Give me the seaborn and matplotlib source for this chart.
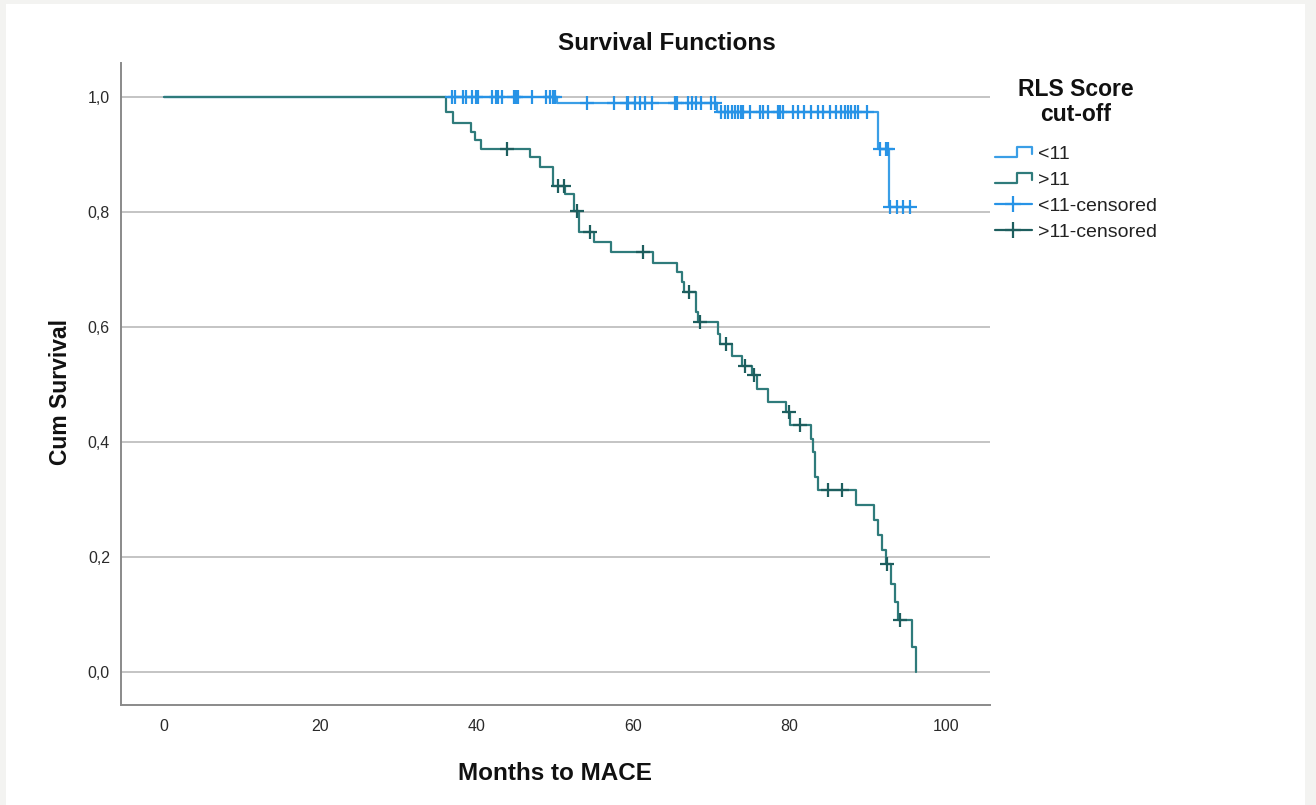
import numpy as np
import pandas as pd
import seaborn as sns
import matplotlib
matplotlib.use("Agg")
import matplotlib.pyplot as plt
from matplotlib.lines import Line2D
from matplotlib.patches import Rectangle
from matplotlib.legend_handler import HandlerBase

# RLS < 11 : step times (months) and cumulative survival after each step
low_event_times = [50.2, 70.7, 91.3, 92.7]
low_surv = [0.990, 0.973, 0.909, 0.808]
low_censor_times = [36.8, 37.2, 38.3, 38.6, 39.4, 39.9, 40.2, 41.9, 42.5, 42.7, 43.2,
                    44.8, 45.0, 45.3, 47.0, 48.9, 49.4, 49.7, 50.0,
                    54.1, 57.5, 59.2, 59.4, 60.2, 60.9, 61.5, 62.4, 65.3, 65.6, 67.0,
                    67.5, 68.1, 68.7, 70.0, 70.5,
                    71.3, 71.7, 72.1, 72.6, 73.0, 73.4, 73.8, 74.1, 74.9, 76.2, 76.6,
                    77.3, 78.5, 78.8, 79.2, 80.5, 81.1, 81.8, 82.8, 83.7, 84.3, 85.2,
                    86.0, 86.6, 87.1, 87.5, 87.9, 88.4, 88.8, 89.9,
                    91.6, 92.4, 92.6,
                    92.8, 93.7, 94.5, 95.4]

# RLS > 11
high_event_times = [36.1, 36.9, 39.3, 39.8, 40.6, 46.8, 48.1, 49.8, 51.3, 52.4, 53.1,
                    55.0, 57.2, 62.6, 65.6, 66.2, 66.5, 68.0, 68.3, 70.9, 71.1, 72.6,
                    73.9, 75.2, 75.8, 77.2, 79.5, 80.1, 82.8, 83.0, 83.2, 83.7, 88.5,
                    90.8, 91.3, 91.8, 92.4, 93.0, 93.5, 93.9, 95.7, 96.2]
high_surv = [0.973, 0.955, 0.938, 0.924, 0.909, 0.895, 0.878, 0.845, 0.831, 0.802, 0.765,
             0.747, 0.730, 0.712, 0.695, 0.678, 0.660, 0.626, 0.608, 0.588, 0.571, 0.550,
             0.533, 0.516, 0.493, 0.469, 0.452, 0.429, 0.406, 0.383, 0.339, 0.316, 0.290,
             0.264, 0.238, 0.212, 0.189, 0.154, 0.122, 0.091, 0.044, 0.0]
high_censor_times = [43.9, 50.4, 51.1, 52.8, 54.5, 61.3, 67.1, 68.6, 71.9, 74.3, 75.5,
                     79.9, 81.3, 84.9, 86.7, 92.5, 94.1]

x_ticks = [0, 20, 40, 60, 80, 100]
y_ticks = [0.0, 0.2, 0.4, 0.6, 0.8, 1.0]

blue = "#3a9ee6"
blue_mark = "#2793e6"
teal = "#2f7b7b"
teal_mark = "#1d5e5e"


def step_frame(event_times, surv, censor_times):
    end = max(max(event_times), max(censor_times))
    t = [0.0] + list(event_times)
    s = [1.0] + list(surv)
    if end > t[-1]:
        t.append(end)
        s.append(s[-1])
    curve = pd.DataFrame({"time": t, "surv": s})
    # survival level at each censoring time
    idx = np.searchsorted(np.array(event_times), np.array(censor_times), side="right")
    levels = np.concatenate([[1.0], surv])[idx]
    marks = pd.DataFrame({"time": censor_times, "surv": levels})
    return curve, marks


class StepHandler(HandlerBase):
    def create_artists(self, legend, orig_handle, xdescent, ydescent, width, height, fontsize, trans):
        x0 = -xdescent
        y0 = -ydescent
        xs = [x0, x0 + 0.6 * width, x0 + 0.6 * width, x0 + width, x0 + width]
        ys = [y0 + 0.1 * height, y0 + 0.1 * height, y0 + 0.85 * height, y0 + 0.85 * height, y0 + 0.35 * height]
        line = Line2D(xs, ys, color=orig_handle.get_color(), lw=orig_handle.get_linewidth())
        line.set_transform(trans)
        return [line]


sns.set_theme(style="white")
plt.rcParams['font.family'] = ['Liberation Sans', 'DejaVu Sans']

fig = plt.figure(figsize=(13.16, 8.05), dpi=100, facecolor="#f3f3f1")
bg = Rectangle((6 / 1316, 0), 1299 / 1316, 1 - 4 / 805, transform=fig.transFigure,
               facecolor="white", edgecolor="none", zorder=-10)
fig.add_artist(bg)
ax = fig.add_axes([0.092, 0.124, 0.660, 0.798])
ax.set_facecolor("white")

low_curve, low_marks = step_frame(low_event_times, low_surv, low_censor_times)
high_curve, high_marks = step_frame(high_event_times, high_surv, high_censor_times)

sns.lineplot(data=low_curve, x="time", y="surv", drawstyle="steps-post", estimator=None,
             color=blue, linewidth=1.6, ax=ax, zorder=3)
sns.lineplot(data=high_curve, x="time", y="surv", drawstyle="steps-post", estimator=None,
             color=teal, linewidth=1.6, ax=ax, zorder=4)
sns.scatterplot(data=low_marks, x="time", y="surv", marker="+", s=90, linewidth=1.6,
                color=blue_mark, ax=ax, zorder=5)
sns.scatterplot(data=high_marks, x="time", y="surv", marker="+", s=90, linewidth=1.6,
                color=teal_mark, ax=ax, zorder=6)

ax.set_xlim(-5.5, 105.6)
ax.set_ylim(-0.057, 1.059)
ax.set_xticks(x_ticks)
ax.set_yticks(y_ticks)
ax.set_yticklabels([f"{v:.1f}".replace(".", ",") for v in y_ticks])
ax.tick_params(axis="both", length=0, labelsize=11.5, colors="#2a2a2a")
ax.tick_params(axis="x", pad=10)
ax.tick_params(axis="y", pad=8)
ax.yaxis.grid(True, color="#c4c4c4", linewidth=1.4)
ax.xaxis.grid(False)
ax.set_axisbelow(True)
for side in ["top", "right"]:
    ax.spines[side].set_visible(False)
for side in ["left", "bottom"]:
    ax.spines[side].set_color("#8a8a8a")
    ax.spines[side].set_linewidth(1.4)

fig.text(667 / 1316, 1 - 43 / 805, "Survival Functions", fontsize=17.5, fontweight="bold",
         ha="center", va="center", color="#111111")
ax.set_xlabel("Months to MACE", fontsize=17.5, fontweight="bold", labelpad=20, color="#111111")
ax.set_ylabel("Cum Survival", fontsize=16.5, fontweight="bold", color="#111111")
ax.yaxis.set_label_coords(-0.057, 0.487)

fig.text(1076 / 1316, 1 - 102 / 805, "RLS Score\ncut-off", fontsize=16.5, fontweight="bold",
         ha="center", va="center", linespacing=1.1, color="#111111")

handles = [Line2D([], [], color=blue, lw=1.6),
           Line2D([], [], color=teal, lw=1.6),
           Line2D([], [], color=blue_mark, lw=1.6, marker="+", markersize=12, markeredgewidth=1.6),
           Line2D([], [], color=teal_mark, lw=1.6, marker="+", markersize=12, markeredgewidth=1.6)]
labels = ["<11", ">11", "<11-censored", ">11-censored"]
leg = fig.legend(handles, labels, loc="upper left", bbox_to_anchor=(995 / 1316, 1 - 145 / 805),
                 frameon=False, fontsize=14, handlelength=1.9, handletextpad=0.3,
                 labelspacing=0.44, borderpad=0, borderaxespad=0,
                 handler_map={handles[0]: StepHandler(), handles[1]: StepHandler()})
for t in leg.get_texts():
    t.set_color("#222222")

fig.savefig("out.png", dpi=100, facecolor=fig.get_facecolor())
